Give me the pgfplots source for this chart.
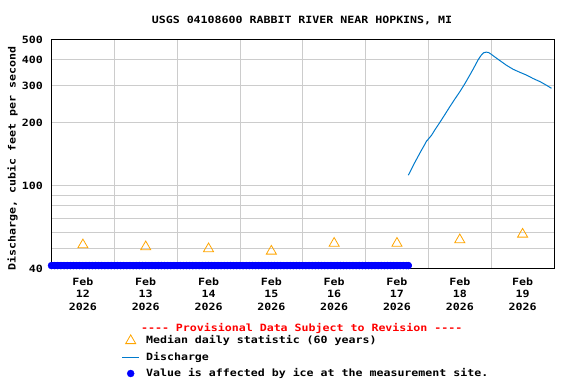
\documentclass[border=0pt]{standalone}
\usepackage{pgfplots}
\pgfplotsset{compat=1.18}
\usepackage{fontspec}
\setmainfont{DejaVu Sans Mono}[FakeStretch=1.16]
\definecolor{medorange}{RGB}{255,165,0}
\definecolor{disc}{RGB}{0,122,204}
\definecolor{gridgray}{RGB}{204,204,204}
\definecolor{icecol}{RGB}{0,0,255}
\definecolor{provred}{RGB}{255,0,0}
\newcommand{\cf}{\bfseries\fontsize{10bp}{12.8bp}\selectfont}
\begin{document}
\begin{tikzpicture}
\path[use as bounding box] (-51.5bp,-115.3bp) rectangle (524.5bp,268.7bp);
\begin{axis}[
  at={(0,0)}, anchor=south west,
  scale only axis, width=502.5bp, height=229.2bp,
  xmin=0, xmax=8,
  ymode=log, ymin=40, ymax=500,
  ytick={40,100,200,300,400,500},
  yticklabels={40,100,200,300,400,500},
  minor ytick={50,60,70,80,90},
  xtick={0.5,1.5,2.5,3.5,4.5,5.5,6.5,7.5},
  xticklabels={{Feb\\12\\2026},{Feb\\13\\2026},{Feb\\14\\2026},{Feb\\15\\2026},{Feb\\16\\2026},{Feb\\17\\2026},{Feb\\18\\2026},{Feb\\19\\2026}},
  minor xtick={1,2,3,4,5,6,7},
  xmajorgrids=false, xminorgrids=true, ymajorgrids=true, yminorgrids=true,
  grid style={gridgray, line width=0.75bp},
  minor grid style={gridgray, line width=0.75bp},
  major tick length=0pt, minor tick length=0pt,
  tick style={draw=none},
  axis line style={black, line width=0.9bp},
  xticklabel style={align=center, anchor=north, inner sep=0pt, yshift=-8.6bp, font=\cf},
  yticklabel style={anchor=east, inner sep=0pt, xshift=-8.5bp, font=\cf},
  /pgf/number format/assume math mode=true,
  legend style={at={(0.1397,-0.288)}, anchor=north west, draw=none, fill=none,
    inner sep=0pt, outer sep=0pt, font=\cf, row sep=4.4bp, column sep=6.4bp,
    nodes={inner sep=0pt, text height=9bp, text depth=3bp}},
  legend cell align=left,
]
\addplot[only marks, mark=triangle, mark size=5.8bp, medorange, mark options={line width=0.8bp}]
  coordinates {(0.5,52.0) (1.5,50.9) (2.5,49.8) (3.5,48.5) (4.5,52.9) (5.5,52.9) (6.5,55.0) (7.5,58.5)};
\addlegendentry{Median daily statistic (60 years)}
\addplot[disc, line width=1bp, no marks]
  coordinates {(5.68,112) (5.72,118) (5.76,125) (5.82,135) (5.87,144) (5.93,155) (5.97,163) (6.00,167)
  (6.05,174) (6.10,184) (6.18,200) (6.26,218) (6.34,238) (6.42,259) (6.50,281) (6.58,307) (6.66,338)
  (6.72,364) (6.79,399) (6.84,420) (6.88,432) (6.92,435) (6.96,433) (7.00,425) (7.07,410) (7.14,396)
  (7.24,377) (7.35,360) (7.45,349) (7.56,338) (7.67,325) (7.78,314) (7.88,302) (7.96,292)};
\addlegendentry{Discharge}
\addplot[icecol, line width=7bp, line cap=round, no marks, forget plot]
  coordinates {(0.00,41.4) (1.00,41.4) (2.00,41.4) (3.00,41.4) (4.00,41.4) (5.00,41.4) (5.68,41.4)};
\addplot[only marks, mark=*, mark size=3.5bp, icecol, mark options={draw=icecol, fill=icecol}]
  coordinates {
  (0.00,41.4) (0.05,41.4) (0.10,41.4) (0.15,41.4) (0.20,41.4) (0.25,41.4) (0.30,41.4) (0.35,41.4) (0.40,41.4) (0.45,41.4)
  (0.50,41.4) (0.55,41.4) (0.60,41.4) (0.65,41.4) (0.70,41.4) (0.75,41.4) (0.80,41.4) (0.85,41.4) (0.90,41.4) (0.95,41.4)
  (1.00,41.4) (1.05,41.4) (1.10,41.4) (1.15,41.4) (1.20,41.4) (1.25,41.4) (1.30,41.4) (1.35,41.4) (1.40,41.4) (1.45,41.4)
  (1.50,41.4) (1.55,41.4) (1.60,41.4) (1.65,41.4) (1.70,41.4) (1.75,41.4) (1.80,41.4) (1.85,41.4) (1.90,41.4) (1.95,41.4)
  (2.00,41.4) (2.05,41.4) (2.10,41.4) (2.15,41.4) (2.20,41.4) (2.25,41.4) (2.30,41.4) (2.35,41.4) (2.40,41.4) (2.45,41.4)
  (2.50,41.4) (2.55,41.4) (2.60,41.4) (2.65,41.4) (2.70,41.4) (2.75,41.4) (2.80,41.4) (2.85,41.4) (2.90,41.4) (2.95,41.4)
  (3.00,41.4) (3.05,41.4) (3.10,41.4) (3.15,41.4) (3.20,41.4) (3.25,41.4) (3.30,41.4) (3.35,41.4) (3.40,41.4) (3.45,41.4)
  (3.50,41.4) (3.55,41.4) (3.60,41.4) (3.65,41.4) (3.70,41.4) (3.75,41.4) (3.80,41.4) (3.85,41.4) (3.90,41.4) (3.95,41.4)
  (4.00,41.4) (4.05,41.4) (4.10,41.4) (4.15,41.4) (4.20,41.4) (4.25,41.4) (4.30,41.4) (4.35,41.4) (4.40,41.4) (4.45,41.4)
  (4.50,41.4) (4.55,41.4) (4.60,41.4) (4.65,41.4) (4.70,41.4) (4.75,41.4) (4.80,41.4) (4.85,41.4) (4.90,41.4) (4.95,41.4)
  (5.00,41.4) (5.05,41.4) (5.10,41.4) (5.15,41.4) (5.20,41.4) (5.25,41.4) (5.30,41.4) (5.35,41.4) (5.40,41.4) (5.45,41.4)
  (5.50,41.4) (5.55,41.4) (5.60,41.4) (5.65,41.4) (5.68,41.4)};
\addlegendentry{Value is affected by ice at the measurement site.}
\end{axis}
\node[anchor=base, font=\cf] at (250.5bp,244.7bp) {USGS 04108600 RABBIT RIVER NEAR HOPKINS, MI};
\node[anchor=base, font=\cf, rotate=90] at (-35.8bp,110.2bp) {Discharge, cubic feet per second};
\node[anchor=base, font=\cf, text=provred] at (250.2bp,-62.3bp) {{-}{-}{-}{-} Provisional Data Subject to Revision {-}{-}{-}{-}};
\end{tikzpicture}
\end{document}
